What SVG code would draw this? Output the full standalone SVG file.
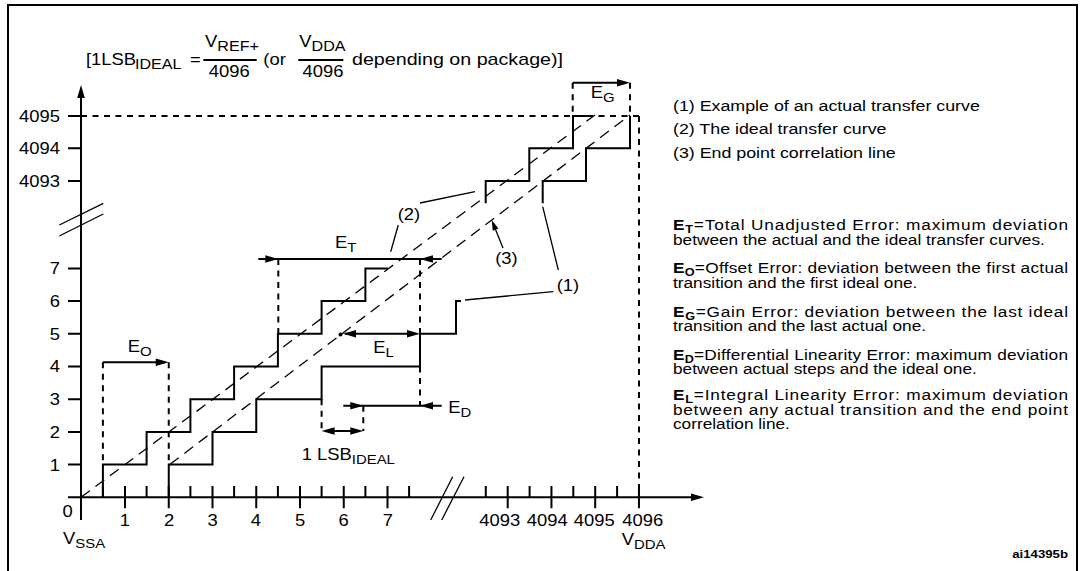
<svg xmlns="http://www.w3.org/2000/svg" width="1081" height="571" viewBox="0 0 1081 571">
<style>
.ln{stroke:#000;stroke-width:2;fill:none}
.ds{stroke:#000;stroke-width:2;stroke-dasharray:6 5.5;fill:none}
.dg{stroke:#000;stroke-width:1.3;stroke-dasharray:11 7;fill:none}
.ld{stroke:#000;stroke-width:1.3;fill:none}
text{font-family:"Liberation Sans",Arial,Helvetica,sans-serif;fill:#000}
.f16{font-size:16px}
.s13{font-size:13px}
.s14{font-size:14px}
.rb{font-size:15px}
.s11{font-size:11px}
.b{font-weight:bold}
.m{text-anchor:middle}
.e{text-anchor:end}
</style>
<defs>
<path id="ah" d="M0,0 L-13,-3.8 L-13,3.8 Z" fill="#000"/>
</defs>
<rect x="8" y="5" width="1069" height="600" fill="#fff" stroke="#000" stroke-width="2"/>

<g id="axes">
<line class="ln" x1="81" y1="92" x2="81" y2="520"/>
<line class="ln" x1="68" y1="497.3" x2="698" y2="497.3"/>
<use href="#ah" transform="translate(81,85) rotate(-90)"/>
<use href="#ah" transform="translate(704,497.3)"/>
<path class="ln" d="M68,116H81M68,148.3H81M68,181H81M68,268.4H81M68,301.1H81M68,333.8H81M68,366.5H81M68,399.2H81M68,431.9H81M68,464.6H81"/>
<path class="ln" d="M125,486V508.3M168.75,486V508.3M212.5,486V508.3M256.25,486V508.3M300,486V508.3M343.75,486V508.3M387.5,486V508.3M507.7,486V508.3M551.45,486V508.3M595.2,486V508.3M638.95,486V508.3"/>
<path class="ln" d="M102.9,486V497.3M146.6,486V497.3M190.4,486V497.3M234.1,486V497.3M277.9,486V497.3M321.6,486V497.3M365.4,486V497.3M409.1,486V497.3M485.8,486V497.3M529.6,486V497.3M573.3,486V497.3M617.1,486V497.3"/>
<path class="ld" stroke-width="1.6" d="M59.3,225L103.3,203.3M59.3,236L103.3,214"/>
<path class="ld" stroke-width="1.6" d="M430.7,520L452.7,476.7M441.7,520L464,476.7"/>
</g>

<g id="curve-ideal">
<path class="ln" d="M102.9,497.3V464.6H146.6V431.9H190.4V399.2H234.1V366.5H277.9V333.8H321.6V301.1H365.4V268.4H388"/>
<path class="ln" d="M485.7,203.3V181H529.3V148.3H573V116H593"/>
</g>
<g id="curve-actual">
<path class="ln" d="M168.75,497.3V464.6H212.5V431.9H256.25V399.2H321.6V366.5H420V333.8H456V301.1H461"/>
<path class="ln" d="M542.7,203.3V181H586V148.3H630V116"/>
</g>
<g id="lines-dashed">
<line class="dg" x1="81" y1="497.3" x2="595" y2="115"/>
<line class="dg" x1="170" y1="464.3" x2="630" y2="115"/>
<path class="ds" d="M81,116H641M639,116V497.3"/>
<path class="ds" d="M102.9,362.3V464.6M168.75,362.3V464.6"/>
<path class="ds" d="M278.3,259V333.8M420,259V333.8M420,366.5V405.7M321.6,399.2V431M363.3,405.7V431"/>
<path class="ds" d="M572.7,82.7V116M630,82.7V116"/>
</g>

<g id="error-arrows">
<line class="ln" x1="102.9" y1="362.3" x2="165" y2="362.3"/>
<use href="#ah" transform="translate(168.75,362.3)"/>
<line class="ln" x1="572.7" y1="82.7" x2="626" y2="82.7"/>
<use href="#ah" transform="translate(630,82.7)"/>
<line class="ln" x1="258.3" y1="259" x2="441.7" y2="259"/>
<use href="#ah" transform="translate(278.3,259)"/>
<use href="#ah" transform="translate(420,259) rotate(180)"/>
<line class="ln" x1="345" y1="333.8" x2="416" y2="333.8"/>
<use href="#ah" transform="translate(343,333.8) rotate(180)"/>
<use href="#ah" transform="translate(420,333.8)"/>
<circle cx="340.5" cy="334.5" r="2" fill="#000"/>
<line class="ln" x1="343.3" y1="405.7" x2="441.7" y2="405.7"/>
<use href="#ah" transform="translate(363.3,405.7)"/>
<use href="#ah" transform="translate(420,405.7) rotate(180)"/>
<line class="ln" x1="325" y1="431" x2="360" y2="431"/>
<use href="#ah" transform="translate(321.6,431) rotate(180)"/>
<use href="#ah" transform="translate(363.3,431)"/>
</g>

<g id="leaders">
<path class="ld" d="M420,203L475,191.7M398.3,225L390.7,251.7"/>
<path class="ld" d="M503,248L494.5,227"/>
<use href="#ah" transform="translate(491.7,220) rotate(-112) scale(0.8)"/>
<path class="ld" d="M558.3,270L542.7,206.7M553.3,291.7L465,300"/>
</g>

<g id="formula">
<line class="ln" stroke-width="1.3" x1="203.3" y1="60" x2="256.7" y2="60"/>
<line class="ln" stroke-width="1.3" x1="298.3" y1="60" x2="343.3" y2="60"/>
<g transform="scale(1.15 1)">
<text class="f16" y="65"><tspan x="74.8">[1LSB</tspan><tspan class="s14" x="117.4" y="69">IDEAL</tspan><tspan x="165.2" y="65">=</tspan></text>
<text class="f16" x="178.3" y="46.7">V<tspan class="s14" dy="4">REF+</tspan></text>
<text class="f16 m" x="199.3" y="77.3">4096</text>
<text class="f16" x="229" y="65">(or</text>
<text class="f16" x="260.3" y="46.7">V<tspan class="s14" dy="4">DDA</tspan></text>
<text class="f16 m" x="280.9" y="77.3">4096</text>
<text class="f16" x="306.1" y="65" textLength="183.5" lengthAdjust="spacingAndGlyphs">depending on package)]</text>
</g>
</g>

<g id="axis-labels" transform="scale(1.15 1)">
<text class="f16 e" x="52.2" y="122">4095</text>
<text class="f16 e" x="52.2" y="154.3">4094</text>
<text class="f16 e" x="52.2" y="187">4093</text>
<text class="f16 e" x="52.2" y="274.4">7</text>
<text class="f16 e" x="52.2" y="307">6</text>
<text class="f16 e" x="52.2" y="340">5</text>
<text class="f16 e" x="52.2" y="372.5">4</text>
<text class="f16 e" x="52.2" y="405.2">3</text>
<text class="f16 e" x="52.2" y="438">2</text>
<text class="f16 e" x="52.2" y="470.6">1</text>
<text class="f16 m" x="58.7" y="517.5">0</text>
<text class="f16 m" x="108.7" y="526">1</text>
<text class="f16 m" x="147" y="526">2</text>
<text class="f16 m" x="185" y="526">3</text>
<text class="f16 m" x="222.6" y="526">4</text>
<text class="f16 m" x="260.9" y="526">5</text>
<text class="f16 m" x="298.7" y="526">6</text>
<text class="f16 m" x="337.2" y="526">7</text>
<text class="f16 m" x="434.5" y="526">4093</text>
<text class="f16 m" x="475.8" y="526">4094</text>
<text class="f16 m" x="516.8" y="526">4095</text>
<text class="f16 m" x="558.9" y="526">4096</text>
<text class="f16" x="54.8" y="544">V<tspan class="s13" dy="4.5">SSA</tspan></text>
<text class="f16" x="540.6" y="545">V<tspan class="s13" dy="4">DDA</tspan></text>
</g>

<g id="error-labels" transform="scale(1.15 1)">
<text class="f16" x="262.3" y="460">1 LSB<tspan class="s13" dy="4">IDEAL</tspan></text>
<text class="f16" x="111" y="351.7">E<tspan class="s13" dy="4">O</tspan></text>
<text class="f16" x="291.3" y="248.3">E<tspan class="s13" dy="4">T</tspan></text>
<text class="f16" x="324.6" y="353.3">E<tspan class="s13" dy="4">L</tspan></text>
<text class="f16" x="389.8" y="413.3">E<tspan class="s13" dy="4">D</tspan></text>
<text class="f16" x="513.65" y="97.7">E<tspan class="s13" dy="4">G</tspan></text>
<text class="f16 m" x="355.65" y="220">(2)</text>
<text class="f16 m" x="440.4" y="264.5">(3)</text>
<text class="f16 m" x="493.9" y="291">(1)</text>
</g>

<g id="legend" transform="scale(1.15 1)">
<text style="font-size:15.5px" x="585.2" y="111.5">(1) Example of an actual transfer curve</text>
<text style="font-size:15.5px" x="585.2" y="134.5">(2) The ideal transfer curve</text>
<text style="font-size:15.5px" x="585.2" y="158">(3) End point correlation line</text>
</g>

<g id="definitions" transform="scale(1.15 1)">
<text class="rb" x="585.2" y="230.5" textLength="343.5" lengthAdjust="spacing"><tspan class="b">E</tspan><tspan class="b s11" dy="3">T</tspan><tspan dy="-3">=Total Unadjusted Error: maximum deviation</tspan></text>
<text class="rb" x="585.2" y="245">between the actual and the ideal transfer curves.</text>
<text class="rb" x="585.2" y="273.5" textLength="343.5" lengthAdjust="spacing"><tspan class="b">E</tspan><tspan class="b s11" dy="3">O</tspan><tspan dy="-3">=Offset Error: deviation between the first actual</tspan></text>
<text class="rb" x="585.2" y="288">transition and the first ideal one.</text>
<text class="rb" x="585.2" y="316.7" textLength="343.5" lengthAdjust="spacing"><tspan class="b">E</tspan><tspan class="b s11" dy="3">G</tspan><tspan dy="-3">=Gain Error: deviation between the last ideal</tspan></text>
<text class="rb" x="585.2" y="331.5">transition and the last actual one.</text>
<text class="rb" x="585.2" y="360.5" textLength="343.5" lengthAdjust="spacing"><tspan class="b">E</tspan><tspan class="b s11" dy="3">D</tspan><tspan dy="-3">=Differential Linearity Error: maximum deviation</tspan></text>
<text class="rb" x="585.2" y="374.5">between actual steps and the ideal one.</text>
<text class="rb" x="585.2" y="400.5" textLength="343.5" lengthAdjust="spacing"><tspan class="b">E</tspan><tspan class="b s11" dy="3">L</tspan><tspan dy="-3">=Integral Linearity Error: maximum deviation</tspan></text>
<text class="rb" x="585.2" y="415" textLength="343.5" lengthAdjust="spacing">between any actual transition and the end point</text>
<text class="rb" x="585.2" y="429.5">correlation line.</text>
<text class="b e" style="font-size:11.5px" x="928.7" y="558">ai14395b</text>
</g>
</svg>
